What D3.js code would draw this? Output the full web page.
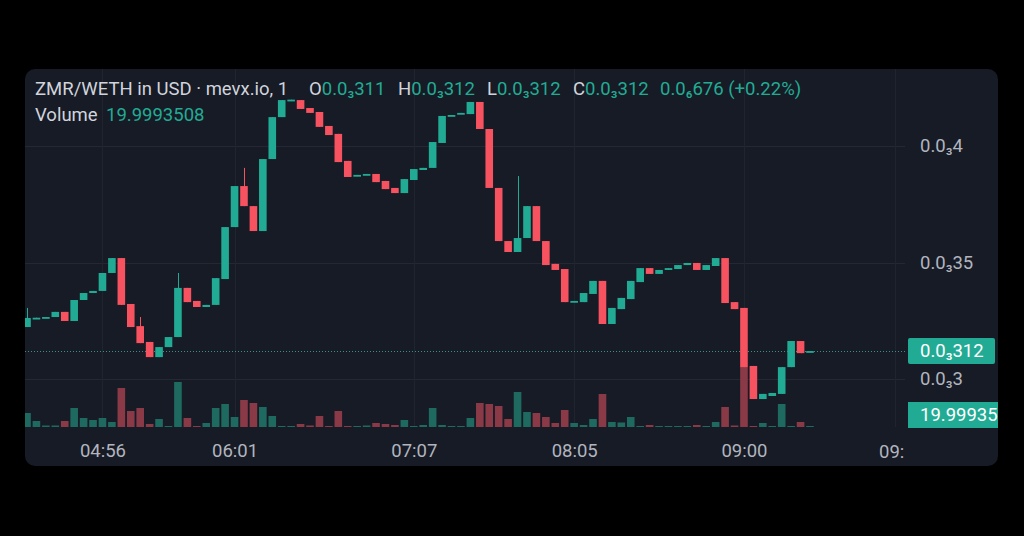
<!DOCTYPE html>
<html><head><meta charset="utf-8">
<script src="https://cdn.jsdelivr.net/npm/d3@7"></script>
<style>html,body{margin:0;padding:0;background:#000;} svg{display:block;}</style>
</head><body>
<svg id="chart" width="1024" height="536"></svg>
<script>
// ---- Data (ZMR/WETH in USD, 1-minute candles) ----
const opens = [
0.0003223,0.0003260,0.0003263,0.0003266,0.0003288,0.0003249,0.0003339,0.0003369,0.0003378,0.0003455,
0.0003519,0.0003322,0.0003227,0.0003159,0.0003094,0.0003137,0.0003180,0.0003391,0.0003335,0.0003309,
0.0003318,0.0003429,0.0003652,0.0003828,0.0003742,0.0003635,0.0003944,0.0004124,0.0004197,0.0004197,
0.0004163,0.0004146,0.0004086,0.0004052,0.0003936,0.0003871,0.0003876,0.0003880,0.0003850,0.0003820,
0.0003798,0.0003854,0.0003897,0.0003906,0.0004013,0.0004129,0.0004137,0.0004137,0.0004189,0.0004073,
0.0003820,0.0003592,0.0003545,0.0003605,0.0003742,0.0003592,0.0003494,0.0003472,0.0003330,0.0003330,
0.0003365,0.0003421,0.0003236,0.0003300,0.0003343,0.0003416,0.0003476,0.0003451,0.0003468,0.0003472,
0.0003489,0.0003498,0.0003468,0.0003485,0.0003519,0.0003330,0.0003305,0.0003056,0.0002914,0.0002927,
0.0002936,0.0003051,0.0003163,0.0003115];
const closes = [
0.0003262,0.0003263,0.0003266,0.0003288,0.0003249,0.0003339,0.0003369,0.0003378,0.0003455,0.0003519,
0.0003318,0.0003223,0.0003154,0.0003094,0.0003137,0.0003180,0.0003391,0.0003330,0.0003309,0.0003318,
0.0003433,0.0003652,0.0003828,0.0003742,0.0003635,0.0003944,0.0004124,0.0004197,0.0004199,0.0004159,
0.0004142,0.0004082,0.0004047,0.0003931,0.0003867,0.0003876,0.0003880,0.0003845,0.0003815,0.0003798,
0.0003858,0.0003901,0.0003906,0.0004017,0.0004129,0.0004133,0.0004142,0.0004189,0.0004073,0.0003820,
0.0003592,0.0003545,0.0003605,0.0003742,0.0003592,0.0003489,0.0003468,0.0003330,0.0003335,0.0003369,
0.0003421,0.0003236,0.0003305,0.0003348,0.0003421,0.0003476,0.0003451,0.0003468,0.0003476,0.0003489,
0.0003498,0.0003468,0.0003489,0.0003519,0.0003326,0.0003300,0.0003051,0.0002914,0.0002936,0.0002940,
0.0003051,0.0003163,0.0003111,0.0003120];
const highs = [
0.0003305,0.0003263,0.0003266,0.0003288,0.0003288,0.0003339,0.0003369,0.0003378,0.0003455,0.0003519,
0.0003519,0.0003322,0.0003266,0.0003159,0.0003137,0.0003180,0.0003455,0.0003391,0.0003335,0.0003318,
0.0003433,0.0003652,0.0003828,0.0003906,0.0003742,0.0003944,0.0004124,0.0004197,0.0004199,0.0004197,
0.0004163,0.0004146,0.0004086,0.0004052,0.0003936,0.0003876,0.0003880,0.0003880,0.0003850,0.0003820,
0.0003858,0.0003901,0.0003906,0.0004017,0.0004129,0.0004133,0.0004142,0.0004189,0.0004189,0.0004073,
0.0003820,0.0003592,0.0003871,0.0003742,0.0003742,0.0003592,0.0003494,0.0003472,0.0003335,0.0003369,
0.0003421,0.0003421,0.0003305,0.0003348,0.0003421,0.0003476,0.0003476,0.0003468,0.0003476,0.0003489,
0.0003498,0.0003498,0.0003489,0.0003519,0.0003519,0.0003330,0.0003305,0.0003056,0.0002936,0.0002940,
0.0003051,0.0003163,0.0003163,0.0003120];
const lows = [
0.0003223,0.0003260,0.0003263,0.0003266,0.0003249,0.0003249,0.0003339,0.0003369,0.0003378,0.0003455,
0.0003318,0.0003223,0.0003154,0.0003094,0.0003094,0.0003137,0.0003180,0.0003330,0.0003309,0.0003309,
0.0003318,0.0003429,0.0003652,0.0003742,0.0003635,0.0003635,0.0003944,0.0004124,0.0004197,0.0004159,
0.0004142,0.0004082,0.0004047,0.0003931,0.0003867,0.0003871,0.0003876,0.0003845,0.0003815,0.0003798,
0.0003798,0.0003854,0.0003897,0.0003906,0.0004013,0.0004129,0.0004137,0.0004137,0.0004073,0.0003820,
0.0003592,0.0003545,0.0003545,0.0003605,0.0003592,0.0003489,0.0003468,0.0003330,0.0003330,0.0003330,
0.0003365,0.0003236,0.0003236,0.0003300,0.0003343,0.0003416,0.0003451,0.0003451,0.0003468,0.0003472,
0.0003489,0.0003468,0.0003468,0.0003485,0.0003326,0.0003300,0.0003051,0.0002914,0.0002914,0.0002927,
0.0002936,0.0003051,0.0003111,0.0003115];
const volumes = [
280,120,30,30,120,380,180,140,180,100,
780,320,380,60,160,20,900,180,20,80,
380,460,200,540,480,400,220,20,20,60,
30,220,20,320,20,20,30,80,60,40,
140,20,40,380,40,20,20,180,480,460,
420,160,700,300,280,200,80,340,80,40,
160,660,100,90,200,20,40,20,20,20,
20,40,20,100,400,30,1200,20,80,20,
460,20,100,20];
const timeTickIndex = [8, 22, 41, 58, 76];
const timeTickLabels = ["04:56", "06:01", "07:07", "08:05", "09:00"];
const priceTicks = [0.0003, 0.00035, 0.0004];
const priceTickLabels = ["0.0\u20833", "0.0\u208335", "0.0\u20834"];
const lastPrice = 0.000312;
const lastPriceLabel = "0.0\u2083312";
const lastVolumeLabel = "19.99935";

// ---- Layout ----
const svg = d3.select("#chart");
const FONT = "Roboto, 'Noto Sans', sans-serif";
const FS = 18.5;
const UP = "#22ab94", DOWN = "#f7525f";
const UPV = "#1f6a60", DOWNV = "#8a3a47";
const panel = {x: 25, y: 69, w: 973, h: 397};
const plotRight = 905, volBase = 427;

svg.append("rect").attr("width", 1024).attr("height", 536).attr("fill", "#000");
svg.append("rect").attr("x", panel.x).attr("y", panel.y).attr("width", panel.w).attr("height", panel.h)
  .attr("rx", 10).attr("fill", "#171b26");

const n = opens.length;
const x = d3.scaleLinear().domain([0, n - 1]).range([27, 810]);
const y = d3.scaleLinear().domain([0.0003, 0.0004]).range([379, 146]);
const yv = d3.scaleLinear().domain([0, 1200]).range([volBase, 367]);

const defs = svg.append("defs");
defs.append("clipPath").attr("id", "plotClip").append("rect")
  .attr("x", panel.x).attr("y", panel.y).attr("width", plotRight - panel.x).attr("height", volBase + 1 - panel.y);
defs.append("clipPath").attr("id", "panelClip").append("rect")
  .attr("x", panel.x).attr("y", panel.y).attr("width", panel.w).attr("height", panel.h);

// grid
const grid = svg.append("g").attr("clip-path", "url(#plotClip)");
grid.selectAll("line.h").data(priceTicks).join("line")
  .attr("x1", panel.x).attr("x2", plotRight)
  .attr("y1", d => Math.round(y(d)) + 0.5).attr("y2", d => Math.round(y(d)) + 0.5)
  .attr("stroke", "#242835").attr("stroke-width", 1);
grid.selectAll("line.v").data(timeTickIndex.concat([92])).join("line")
  .attr("x1", d => Math.round(x(d)) + 0.5).attr("x2", d => Math.round(x(d)) + 0.5)
  .attr("y1", panel.y).attr("y2", volBase)
  .attr("stroke", "#20242f").attr("stroke-width", 1);

const data = d3.range(n).map(i => ({i, o: opens[i], c: closes[i], h: highs[i], l: lows[i], v: volumes[i]}));
const bw = 7.6;

const plot = svg.append("g").attr("clip-path", "url(#plotClip)");
// volume bars
plot.selectAll("rect.vol").data(data).join("rect")
  .attr("x", d => x(d.i) - bw / 2).attr("width", bw)
  .attr("y", d => yv(d.v)).attr("height", d => volBase - yv(d.v))
  .attr("fill", d => d.c >= d.o ? UPV : DOWNV);

// price line (dotted)
plot.append("line").attr("x1", panel.x).attr("x2", plotRight)
  .attr("y1", Math.round(y(lastPrice)) + 0.5).attr("y2", Math.round(y(lastPrice)) + 0.5)
  .attr("stroke", "#3c8f84").attr("stroke-width", 1).attr("stroke-dasharray", "1,2");

// wicks
plot.selectAll("line.wick").data(data).join("line")
  .attr("x1", d => Math.round(x(d.i)) + 0.5).attr("x2", d => Math.round(x(d.i)) + 0.5)
  .attr("y1", d => y(d.h)).attr("y2", d => y(d.l))
  .attr("stroke", d => d.c >= d.o ? UP : DOWN).attr("stroke-width", 1);
// bodies
plot.selectAll("rect.body").data(data).join("rect")
  .attr("x", d => x(d.i) - bw / 2).attr("width", bw)
  .attr("y", d => Math.min(y(d.o), y(d.c)))
  .attr("height", d => Math.max(1.8, Math.abs(y(d.o) - y(d.c))))
  .attr("fill", d => d.c >= d.o ? UP : DOWN);

// price axis
const yAxis = d3.axisRight(y).tickValues(priceTicks).tickFormat((d, i) => priceTickLabels[i])
  .tickSize(0).tickPadding(0);
const ya = svg.append("g").attr("transform", "translate(920,0)").call(yAxis);
ya.select(".domain").remove();
ya.selectAll("text").attr("fill", "#b2b5be").attr("font-size", FS).attr("font-family", FONT);

// last price / last volume labels
const pane = svg.append("g").attr("clip-path", "url(#panelClip)");
pane.append("rect").attr("x", 908).attr("y", 338).attr("width", 87).attr("height", 26).attr("rx", 2).attr("fill", UP);
pane.append("text").attr("x", 920).attr("y", 351).attr("dy", "0.35em").text(lastPriceLabel)
  .attr("fill", "#fff").attr("font-size", FS).attr("font-family", FONT);
pane.append("rect").attr("x", 908).attr("y", 402).attr("width", 92).attr("height", 26).attr("fill", UP);
pane.append("text").attr("x", 920).attr("y", 415).attr("dy", "0.35em").text(lastVolumeLabel)
  .attr("fill", "#fff").attr("font-size", FS).attr("font-family", FONT);

// time axis
const xAxis = d3.axisBottom(x).tickValues(timeTickIndex).tickFormat((d, i) => timeTickLabels[i])
  .tickSize(0).tickPadding(0);
const xa = svg.append("g").attr("transform", "translate(0,444)").call(xAxis);
xa.select(".domain").remove();
xa.selectAll("text").attr("fill", "#b2b5be").attr("font-size", FS).attr("font-family", FONT);
svg.append("text").attr("x", 879).attr("y", 457.5).text("09:")
  .attr("fill", "#b2b5be").attr("font-size", FS).attr("font-family", FONT);

// header
const hdr = svg.append("text").attr("y", 95).attr("font-size", FS).attr("font-family", FONT);
const GRAY = "#d1d4dc", TEAL = "#22ab94";
hdr.append("tspan").attr("x", 35).attr("fill", GRAY).text("ZMR/WETH in USD \u00b7 mevx.io, 1");
const parts = [["O", "0.0\u2083311", 309], ["H", "0.0\u2083312", 398], ["L", "0.0\u2083312", 487], ["C", "0.0\u2083312", 573]];
parts.forEach(p => {
  hdr.append("tspan").attr("x", p[2]).attr("fill", GRAY).text(p[0]);
  hdr.append("tspan").attr("fill", TEAL).text(p[1]);
});
hdr.append("tspan").attr("x", 660).attr("fill", TEAL).text("0.0\u2086676 (+0.22%)");

const vh = svg.append("text").attr("y", 121).attr("font-size", FS).attr("font-family", FONT);
vh.append("tspan").attr("x", 35).attr("fill", GRAY).text("Volume");
vh.append("tspan").attr("x", 106).attr("fill", TEAL).text("19.9993508");
</script>
</body></html>
